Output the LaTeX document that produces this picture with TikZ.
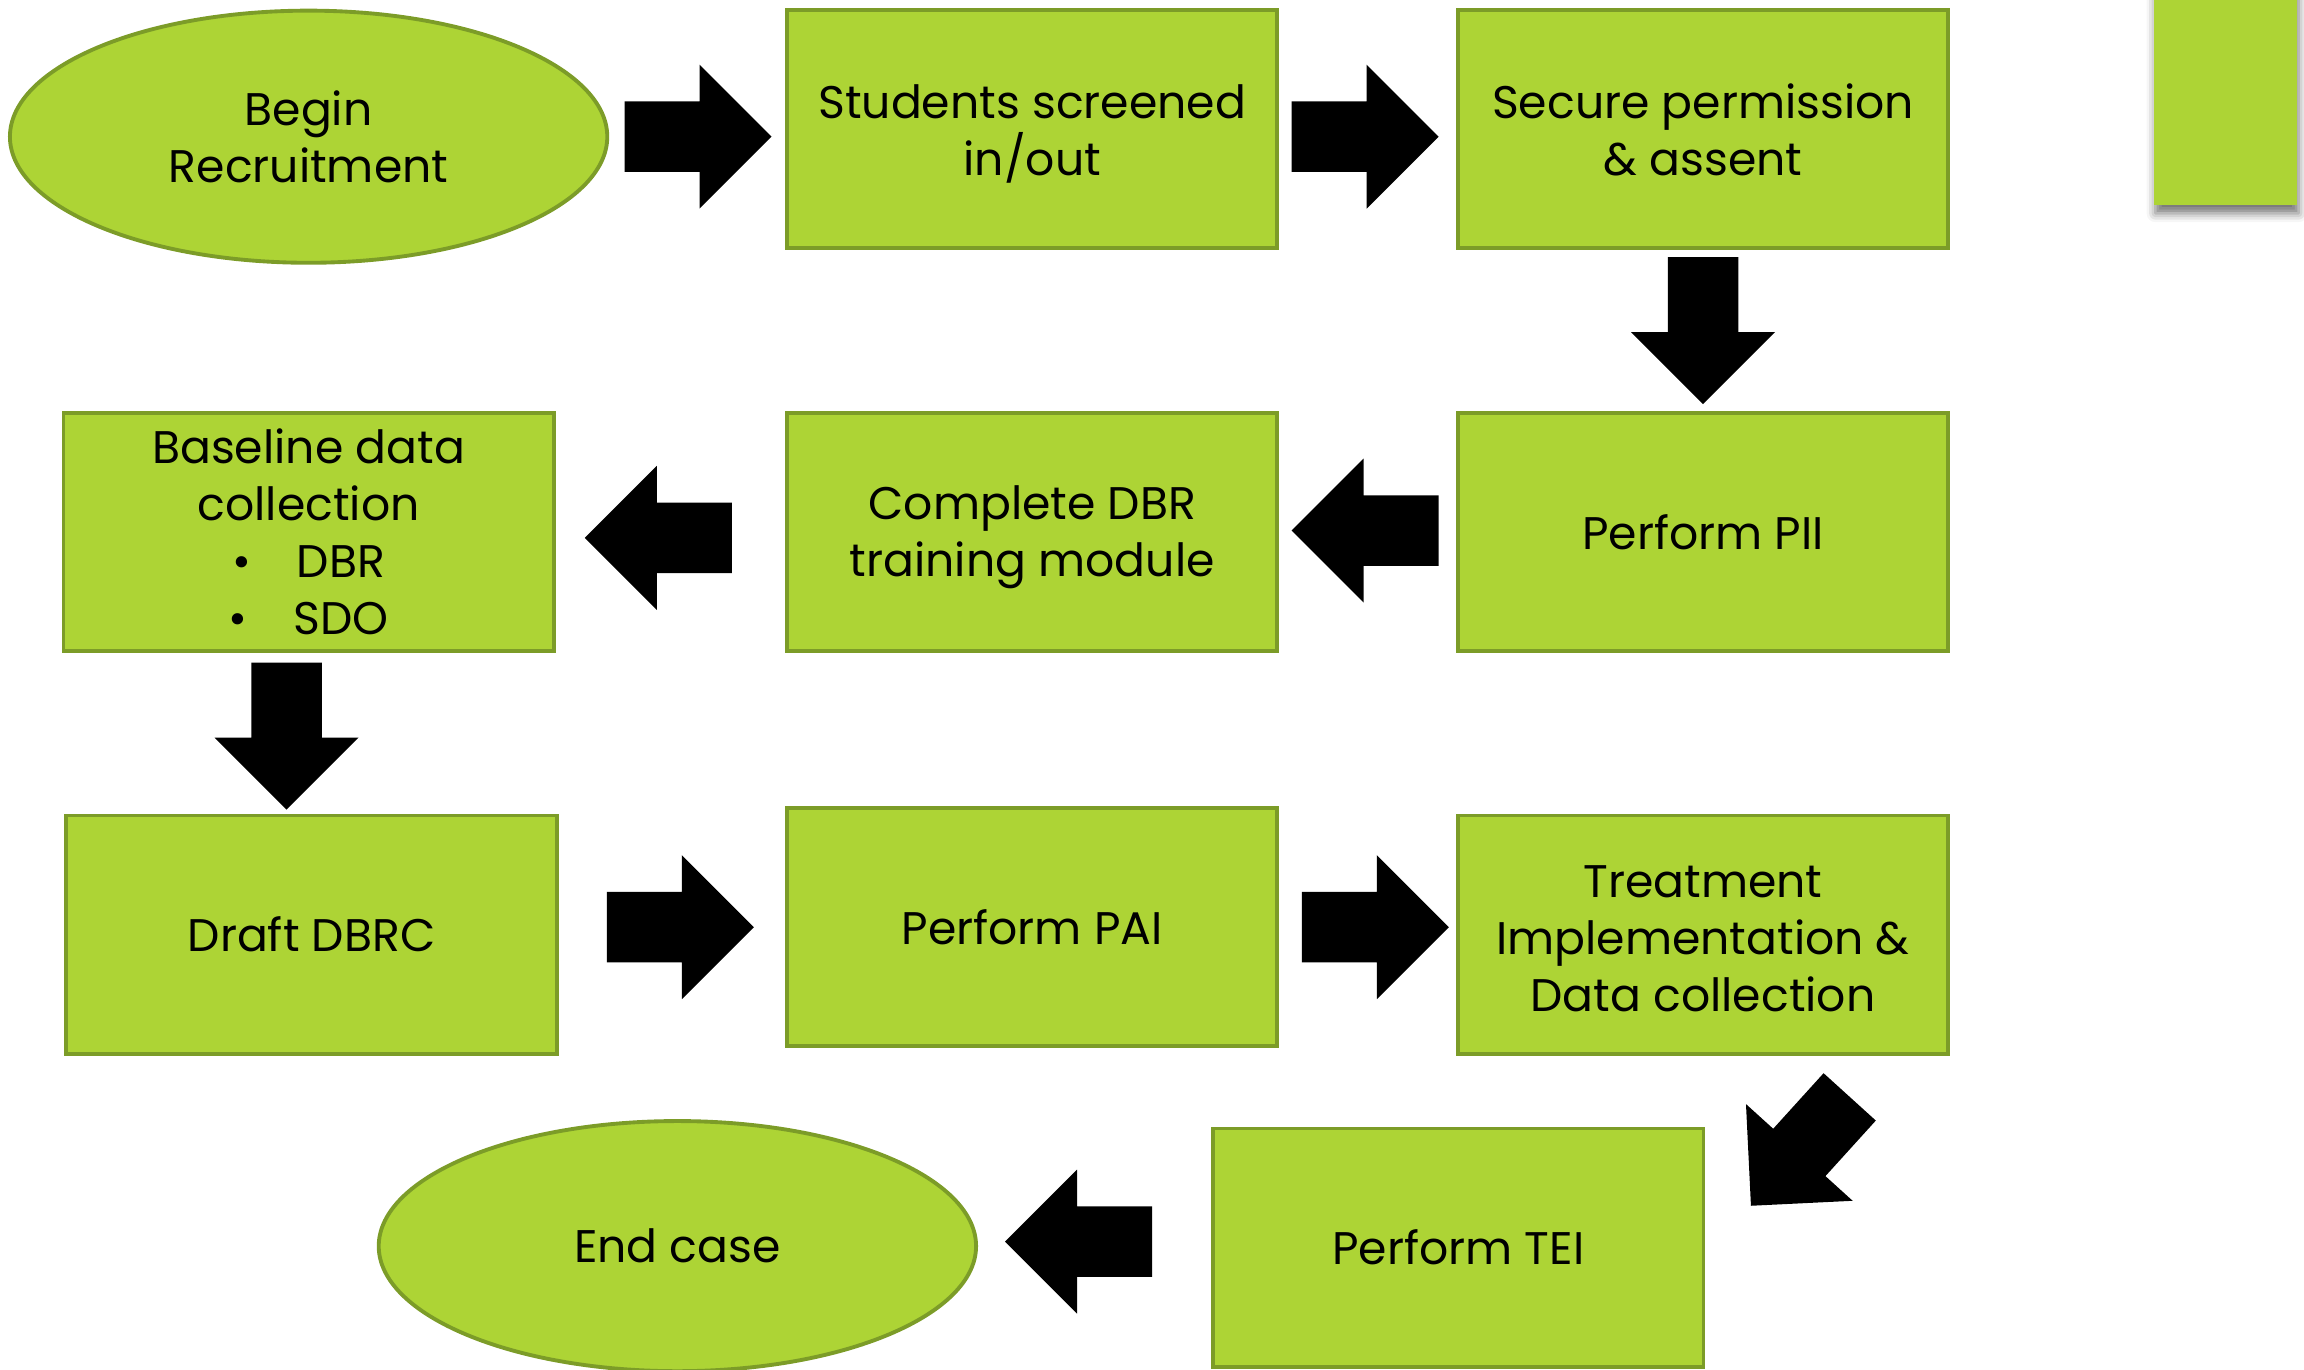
\documentclass[tikz,border=0pt]{standalone}
\usepackage{fontspec}
\setmainfont{Poppins}
\usetikzlibrary{shapes.geometric,shadows.blur}
\definecolor{leaf}{RGB}{173,212,53}
\definecolor{leafedge}{RGB}{124,156,40}
\tikzset{
  txt/.style={font=\fontsize{13}{16.2}\selectfont, align=center, text=black},
  stepbox/.style={txt, rectangle, draw=leafedge, fill=leaf, line width=1.1pt,
    minimum width=4.9cm, minimum height=2.38cm, inner sep=2pt},
  oval/.style={txt, ellipse, draw=leafedge, fill=leaf, line width=1.1pt,
    minimum width=5.97cm, minimum height=2.52cm, inner sep=0pt},
  blockarrow/.style={fill=black},
}
% invisible strut that lowers a multi-line label a little inside its box
\newcommand\toplift[1]{\rule{0pt}{#1}}
% a thick block arrow of fixed size, centred on a named coordinate and turned by an angle
\newcommand\blockarr[2]{%
  \fill[blockarrow, shift={(#1)}, rotate=#2]
    (-73.5,-35.25) -- (1.5,-35.25) -- (1.5,-72) -- (73.5,0)
    -- (1.5,72) -- (1.5,35.25) -- (-73.5,35.25) -- cycle;}
\begin{document}
\begin{tikzpicture}[x=0.01cm, y=-0.01cm]
\useasboundingbox (0,0) rectangle (2304,1369);

% side panel
\node[rectangle, fill=leaf, minimum width=1.43cm, minimum height=2.25cm, inner sep=0pt,
  blur shadow={shadow xshift=0.4pt, shadow yshift=-2.5pt, shadow blur radius=2.5pt, shadow opacity=55}]
  (panel) at (2225.5,92) {};

% steps
\node[oval] (begin) at (308.6,136.7) {\toplift{10pt}Begin\\Recruitment};
\node[stepbox] (screen) at (1032.2,129.3) {\toplift{12.5pt}Students screened\\in/out};
\node[stepbox] (permit) at (1703,129.3) {\toplift{10.3pt}Secure permission\\\& assent};
\node[stepbox] (pii) at (1703,531.9) {Perform PII};
\node[stepbox] (train) at (1032.2,531.9) {\toplift{12.8pt}Complete DBR\\training module};
\node[stepbox] (base) at (308.6,531.9) {Baseline data\\collection\\•\hspace{1.0em}DBR\\•\hspace{1.0em}SDO};
\node[stepbox] (draft) at (311.5,934.5) {Draft DBRC};
\node[stepbox] (pai) at (1032.2,927.2) {Perform PAI};
\node[stepbox] (treat) at (1703,934.5) {\toplift{11.5pt}Treatment\\Implementation \&\\Data collection};
\node[stepbox] (tei) at (1458.3,1247.5) {Perform TEI};
\node[oval, minimum height=2.5cm] (endc) at (677.4,1246.1) {End case};

% arrows between the steps
\coordinate (a1) at (698,136.7);
\coordinate (a2) at (1365.1,136.7);
\coordinate (a3) at (1703,330.6);
\coordinate (a4) at (1365.1,530.5);
\coordinate (a5) at (658.3,537.8);
\coordinate (a6) at (286.5,736.2);
\coordinate (a7) at (680.3,927.2);
\coordinate (a8) at (1375.4,927.2);
\coordinate (a9) at (1800.3,1151.3);
\coordinate (a10) at (1078.5,1241.6);
\blockarr{a1}{0}
\blockarr{a2}{0}
\blockarr{a3}{-90}
\blockarr{a4}{180}
\blockarr{a5}{180}
\blockarr{a6}{-90}
\blockarr{a7}{0}
\blockarr{a8}{0}
\blockarr{a9}{-132.2}
\blockarr{a10}{180}
\end{tikzpicture}
\end{document}
